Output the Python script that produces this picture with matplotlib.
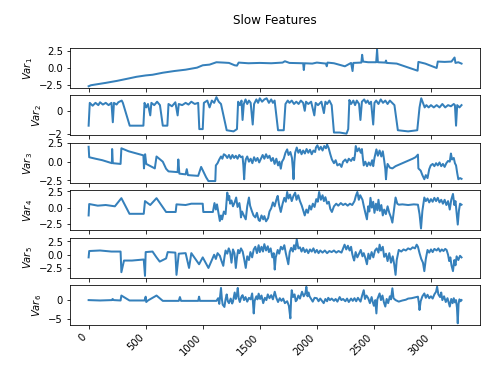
import numpy as np
import matplotlib.pyplot as plt

# (sample index, value)
var1_pts = [(0, -2.75), (20, -2.6), (150, -2.25), (250, -1.95), (350, -1.6), (420, -1.35), (500, -1.15), (560, -1.05),
            (650, -0.75), (750, -0.5), (850, -0.3), (950, 0.0), (1000, 0.35), (1060, 0.45), (1120, 0.8), (1180, 0.75),
            (1230, 0.7), (1280, 0.35), (1300, 0.3), (1315, 0.75), (1400, 0.65), (1500, 0.7), (1600, 0.65), (1700, 0.75),
            (1720, 0.95), (1760, 0.7), (1880, 0.65), (1886, -0.35), (1892, 0.65), (1960, 0.6), (2000, 0.75), (2080, 0.6),
            (2087, 0.2), (2094, 0.75), (2150, 0.65), (2246, 0.2), (2300, 0.7), (2313, -0.5), (2320, 0.7), (2390, 0.75),
            (2397, 1.9), (2405, 0.9), (2450, 0.8), (2520, 0.8), (2528, 2.65), (2535, 0.8), (2600, 0.75), (2606, 1.05),
            (2612, 0.7), (2700, 0.6), (2883, -0.45), (2890, 0.85), (2950, 0.6), (3050, -0.05), (3060, 0.9), (3120, 0.85),
            (3180, 0.9), (3207, 1.5), (3215, 0.7), (3240, 0.8), (3268, 0.6)]

var2_pts = [(0, -1.3), (10, 0.7), (35, 0.45), (60, 0.7), (85, 0.5), (100, 0.75), (125, 0.55), (150, 0.7), (175, 0.5),
            (200, 0.7), (212, -1.0), (222, 0.7), (245, 0.55), (260, 0.75), (290, 0.9), (300, 0.7), (360, -1.3),
            (480, -1.3), (490, 0.7), (505, 0.3), (520, 0.6), (540, -0.4), (550, 0.7), (575, 0.5), (600, 0.8), (625, 0.5),
            (650, -1.3), (690, -1.3), (700, 0.6), (730, 0.4), (760, 0.75), (780, -0.4), (790, 0.6), (820, 0.5),
            (850, 0.7), (875, 0.55), (900, 0.8), (930, 0.6), (960, 0.7), (970, -1.6), (1000, -1.6), (1010, 0.7),
            (1040, 0.9), (1060, 0.3), (1080, 0.9), (1100, 0.7), (1120, 1.2), (1140, 0.8), (1160, 0.6), (1210, -1.7),
            (1270, -1.8), (1300, -1.6), (1310, 0.8), (1325, 0.5), (1340, 0.9), (1349, -0.8), (1360, 0.6), (1375, 1.0),
            (1390, 0.6), (1405, 0.9), (1420, 0.7), (1438, -1.2), (1450, 0.6), (1470, 1.0), (1485, 0.7), (1500, 1.1),
            (1520, 0.8), (1540, 1.0), (1560, 1.1), (1580, 0.7), (1600, 1.0), (1615, 0.7), (1630, 0.9), (1660, -1.7),
            (1710, -1.7), (1725, 0.6), (1745, 0.9), (1760, 0.7), (1780, 0.9), (1800, 0.6), (1820, 0.8), (1840, 0.6),
            (1860, 0.9), (1880, 0.7), (1894, 0.0), (1905, 0.8), (1925, 0.6), (1950, 0.8), (1978, -0.4), (1990, 0.7),
            (2010, 0.5), (2040, 0.8), (2062, -0.2), (2075, 0.8), (2090, 0.6), (2110, 0.9), (2130, 0.5), (2150, -1.9),
            (2200, -1.9), (2260, -2.0), (2275, -1.6), (2285, 0.95), (2300, 0.6), (2320, 0.9), (2335, 0.5), (2350, 0.9),
            (2370, 0.6), (2382, -0.8), (2395, 0.8), (2415, 1.0), (2430, 0.7), (2445, 0.9), (2460, 0.6), (2475, 0.8),
            (2494, -1.2), (2505, 0.7), (2520, 0.9), (2540, 0.6), (2560, 1.0), (2580, 0.7), (2600, 0.9), (2620, 0.6),
            (2640, 0.9), (2660, 0.7), (2680, 0.5), (2710, -1.7), (2800, -1.8), (2880, -1.7), (2900, 0.3), (2915, 1.1),
            (2930, 0.7), (2945, 0.3), (2960, 0.5), (2980, 0.3), (3000, 0.5), (3025, 0.3), (3050, 0.5), (3075, 0.3),
            (3100, 0.6), (3125, 0.3), (3150, 0.5), (3175, 0.4), (3200, 0.6), (3210, 0.5), (3220, -1.3), (3230, 0.5),
            (3250, 0.3), (3268, 0.5)]

var3_pts = [(0, 2.0), (5, 0.6), (60, 0.4), (120, 0.2), (204, -0.2), (206, 1.7), (212, -0.2), (280, -0.3), (287, 1.8),
            (350, 1.4), (420, 1.1), (480, 0.85), (485, -0.9), (495, 1.0), (505, -0.3), (580, -0.9), (595, 0.7),
            (650, 0.0), (679, -0.95), (700, -1.3), (780, -1.4), (786, 0.3), (795, -1.6), (850, -1.7), (860, -1.0),
            (870, -1.8), (960, -1.9), (986, -0.7), (1030, -2.1), (1050, -2.6), (1110, -2.6), (1115, -0.5), (1130, -0.2),
            (1145, 0.3), (1160, 0.7), (1172, 0.4), (1185, 1.0), (1200, 0.85), (1215, 0.5), (1230, 0.9), (1245, 0.4),
            (1260, 0.9), (1275, 0.5), (1290, 0.8), (1305, 0.4), (1320, 0.9), (1335, 0.6), (1349, 0.7), (1356, -0.5),
            (1363, -2.35), (1370, -0.5), (1377, 0.3), (1390, 0.7), (1405, 0.0), (1420, 0.4), (1435, -0.2), (1450, 0.6),
            (1465, 0.1), (1480, 0.5), (1495, -0.1), (1510, 0.4), (1525, 0.9), (1540, 0.4), (1555, 1.0), (1570, 0.5),
            (1585, 0.8), (1600, 0.1), (1615, 0.5), (1630, -0.3), (1645, 0.4), (1660, -0.5), (1672, 0.0), (1684, -0.94),
            (1695, 0.0), (1710, 0.4), (1725, 1.2), (1740, 1.65), (1752, 0.9), (1768, 1.3), (1782, 0.5), (1790, -1.0),
            (1796, -2.35), (1803, 0.0), (1810, 1.2), (1824, 1.9), (1838, 1.2), (1852, 1.6), (1866, 1.0), (1880, 1.5),
            (1895, 1.1), (1910, 1.7), (1925, 1.2), (1940, 1.6), (1955, 1.0), (1970, 1.5), (1985, 1.3), (1992, 1.9),
            (2005, 2.2), (2020, 1.6), (2035, 2.0), (2050, 1.5), (2065, 2.1), (2080, 1.8), (2090, 2.3), (2104, 1.8),
            (2118, 1.0), (2132, 0.3), (2150, -0.2), (2165, 0.2), (2180, -0.5), (2200, -0.3), (2216, -0.7), (2230, 0.0),
            (2250, 0.3), (2265, -0.1), (2280, 0.4), (2300, 0.1), (2315, 0.5), (2327, 0.2), (2335, 1.0), (2341, 2.1),
            (2355, 1.4), (2370, 1.8), (2385, 1.2), (2395, 1.7), (2403, 0.5), (2411, -0.5), (2425, 0.0), (2440, -0.6),
            (2455, -0.1), (2470, -0.5), (2485, 0.2), (2494, -0.6), (2505, 0.5), (2515, 1.2), (2522, 1.65), (2535, 0.8),
            (2550, 1.5), (2565, 0.7), (2578, 1.4), (2590, 0.2), (2600, -1.0), (2606, -2.35), (2613, -1.0), (2620, -0.3),
            (2640, -0.8), (2662, -0.9), (2690, -0.6), (2720, -0.4), (2750, -0.2), (2780, 0.0), (2810, 0.2), (2840, 0.4),
            (2865, 0.6), (2886, 0.95), (2890, -0.9), (2910, -1.2), (2925, -1.8), (2942, -2.35), (2955, -1.8),
            (2970, -2.2), (2985, -1.0), (2998, -0.5), (3015, -0.3), (3030, -0.6), (3045, -0.2), (3060, -0.5),
            (3075, -0.1), (3090, -0.6), (3105, -0.3), (3120, -0.7), (3135, -0.2), (3150, 0.1), (3165, 0.0), (3175, 1.1),
            (3185, 0.3), (3200, 0.5), (3210, -0.2), (3220, -0.5), (3230, -1.5), (3240, -2.35), (3255, -2.2),
            (3268, -2.3)]

var4_pts = [(0, -1.2), (5, 0.55), (80, 0.3), (150, 0.4), (230, 0.2), (287, 1.45), (358, -0.95), (483, -0.95), (494, 1.0),
            (540, 0.4), (595, 1.45), (679, -0.67), (763, -0.67), (770, 0.5), (850, 0.4), (900, 0.6), (1000, 0.6),
            (1005, -0.67), (1089, -0.67), (1103, 0.7), (1115, -0.3), (1125, 0.5), (1140, -1.0), (1150, -2.05),
            (1160, -1.2), (1170, -1.8), (1185, -0.6), (1200, -1.0), (1208, 0.8), (1215, 2.3), (1225, 1.2), (1232, 1.8),
            (1240, 0.6), (1252, 1.1), (1265, 0.2), (1280, 0.8), (1293, 1.55), (1305, 0.1), (1321, 0.7), (1330, -0.4),
            (1335, -1.5), (1345, -0.6), (1360, -1.2), (1377, -1.8), (1390, 0.2), (1405, 1.55), (1415, 0.3), (1430, -0.5),
            (1445, -1.2), (1461, -1.5), (1475, -0.8), (1490, -1.9), (1500, -2.05), (1515, -1.2), (1530, -1.8),
            (1540, -1.3), (1555, -2.1), (1573, -1.6), (1585, -0.6), (1600, -0.1), (1615, 0.8), (1630, 0.2), (1645, 1.2),
            (1657, 1.8), (1668, 0.5), (1684, -0.67), (1700, 0.6), (1715, 1.5), (1728, 0.9), (1740, 2.4), (1752, 1.4),
            (1765, 2.0), (1780, 1.0), (1795, 1.8), (1810, 2.3), (1822, 1.2), (1837, 1.9), (1852, 1.0), (1868, 0.3),
            (1880, -0.4), (1894, -1.2), (1908, -0.3), (1922, -0.8), (1936, 0.3), (1950, -0.3), (1965, 0.6), (1980, 0.1),
            (1995, 1.3), (2008, 0.9), (2020, 2.4), (2035, 1.2), (2050, 1.9), (2062, 1.0), (2075, 1.6), (2090, 0.6),
            (2105, 0.9), (2118, -0.2), (2132, -0.67), (2150, 0.2), (2170, 0.6), (2188, 0.3), (2210, 0.7), (2230, 0.4),
            (2250, 0.6), (2270, 0.3), (2290, 0.6), (2310, 0.4), (2330, 1.0), (2342, 1.8), (2355, 2.4), (2368, 1.2),
            (2380, 1.9), (2400, 1.2), (2412, 0.2), (2425, -0.8), (2439, -1.8), (2450, 0.2), (2460, -0.6), (2470, 1.5),
            (2482, 0.0), (2494, 0.9), (2505, -0.8), (2518, 0.6), (2530, -0.4), (2540, 1.2), (2552, -0.5), (2565, 0.4),
            (2578, -1.2), (2590, -0.3), (2605, -1.0), (2620, 0.2), (2635, -0.8), (2650, -1.5), (2662, -2.3),
            (2675, -0.5), (2690, 1.55), (2705, 0.6), (2718, 0.45), (2750, 0.5), (2800, 0.4), (2850, 0.5), (2886, 0.45),
            (2900, -1.0), (2913, -3.2), (2925, -0.5), (2942, 1.55), (2955, 1.0), (2970, 1.4), (2985, 0.8), (3000, 1.3),
            (3015, 0.9), (3030, 1.5), (3045, 1.0), (3060, 1.5), (3075, 0.8), (3090, 1.2), (3105, 0.6), (3120, 1.2),
            (3135, 0.4), (3150, 1.0), (3165, -0.3), (3178, 1.2), (3193, 2.1), (3205, 0.4), (3215, 1.0), (3225, -0.8),
            (3235, -2.6), (3245, -0.5), (3255, 0.6), (3268, 0.45)]

var5_pts = [(0, -0.5), (5, 0.7), (100, 0.8), (200, 0.6), (280, 0.6), (287, -3.3), (310, -1.1), (380, -1.1), (483, -0.9),
            (494, -4.0), (500, 0.5), (560, 0.6), (595, -0.5), (623, -1.3), (679, -0.7), (693, 0.5), (760, 0.4),
            (770, -3.8), (790, 0.2), (850, 0.3), (880, -2.5), (900, 0.3), (968, -1.8), (1000, -0.5), (1050, -2.5),
            (1100, 0.0), (1115, -0.8), (1130, 0.3), (1150, -0.2), (1165, -1.2), (1180, -2.1), (1190, -0.5), (1200, 0.8),
            (1215, 0.2), (1228, 1.2), (1240, 0.5), (1252, -1.5), (1265, 1.0), (1278, 0.3), (1290, -2.5), (1300, -0.5),
            (1310, 0.9), (1322, 0.3), (1335, 1.2), (1350, 0.6), (1363, -0.8), (1377, -2.5), (1390, -0.3), (1405, -1.0),
            (1418, 0.5), (1433, -0.5), (1447, 1.0), (1461, 1.5), (1475, 0.3), (1490, 1.8), (1500, 0.5), (1515, 1.5),
            (1528, 0.6), (1540, 2.0), (1555, 0.8), (1570, 1.6), (1580, 0.5), (1595, 1.2), (1610, -0.5), (1622, 0.3),
            (1631, -2.8), (1640, -0.5), (1657, 0.9), (1670, 0.2), (1685, 1.5), (1700, 1.0), (1715, 1.8), (1728, 0.3),
            (1740, -0.8), (1750, -1.8), (1762, 0.5), (1775, 1.3), (1790, 0.6), (1800, 1.8), (1812, 1.0), (1824, 2.9),
            (1838, 1.2), (1852, 1.4), (1866, 0.6), (1880, 1.3), (1895, 0.5), (1910, 1.0), (1925, 0.3), (1940, 1.0),
            (1955, 0.6), (1970, 1.2), (1985, 0.4), (2000, 0.9), (2015, 0.3), (2030, 0.8), (2050, 0.4), (2070, 0.8),
            (2090, 0.3), (2110, 0.7), (2130, 0.5), (2150, 0.8), (2170, 0.4), (2190, 0.7), (2216, 0.4), (2230, 1.2),
            (2243, 1.9), (2258, 1.0), (2272, 1.7), (2287, 0.8), (2300, 1.5), (2310, 0.2), (2318, -0.5), (2327, -1.1),
            (2340, 0.5), (2355, -0.5), (2370, 0.2), (2385, 0.9), (2400, -0.3), (2411, 0.3), (2425, -0.6), (2439, -1.8),
            (2452, 0.2), (2465, -0.8), (2480, 0.5), (2495, -0.5), (2510, 0.8), (2525, 1.2), (2540, 0.4), (2550, 1.9),
            (2562, 0.8), (2578, 1.5), (2590, -0.4), (2606, 0.2), (2620, -1.2), (2635, 0.3), (2650, -1.5), (2665, -0.3),
            (2678, -1.8), (2690, -3.8), (2700, -1.0), (2718, 0.9), (2740, 0.6), (2760, 1.0), (2780, 0.8), (2800, 1.2),
            (2820, 1.0), (2840, 1.4), (2860, 1.2), (2875, 1.9), (2886, 1.5), (2900, 0.3), (2915, -0.8), (2930, -1.5),
            (2942, -3.1), (2955, -0.8), (2970, 0.9), (2985, 0.4), (3000, 1.0), (3015, 0.5), (3030, 1.1), (3050, 0.8),
            (3065, 1.2), (3080, 0.6), (3095, 1.0), (3110, 0.7), (3125, 1.1), (3137, 0.9), (3150, 0.0), (3160, -1.2),
            (3170, -0.5), (3180, -2.0), (3193, -3.1), (3205, -1.0), (3215, -2.0), (3225, -0.3), (3240, -1.0),
            (3255, -0.2), (3268, -0.5)]

var6_pts = [(0, 0.0), (100, -0.1), (204, 0.0), (210, 0.3), (220, 0.0), (280, -0.1), (287, 1.2), (358, -0.1), (490, -0.1),
            (500, 0.9), (505, -0.5), (520, -0.1), (595, 1.2), (650, -0.2), (790, -0.2), (800, 0.8), (810, -0.2),
            (960, -0.2), (968, 0.9), (975, -0.2), (1120, -0.2), (1135, 0.5), (1145, -1.0), (1160, 3.2), (1168, 0.2),
            (1175, -1.2), (1190, -1.8), (1200, 0.2), (1210, 1.5), (1220, -0.3), (1230, -0.8), (1245, 0.4), (1258, -0.9),
            (1265, -0.4), (1280, 2.0), (1290, 0.3), (1300, 1.5), (1307, 3.2), (1315, 0.5), (1325, -0.5), (1338, 0.8),
            (1349, 1.3), (1362, 0.0), (1375, 0.8), (1390, -0.4), (1405, 0.6), (1420, 0.2), (1433, 1.75), (1440, -0.5),
            (1447, -3.5), (1455, -0.2), (1470, 1.0), (1480, 0.2), (1490, 1.7), (1503, 0.3), (1515, 1.2), (1530, -0.8),
            (1545, 0.6), (1558, 0.0), (1570, 1.5), (1585, 0.5), (1600, 1.3), (1615, 0.2), (1631, 2.2), (1645, 0.6),
            (1660, -0.5), (1675, 0.5), (1690, -0.2), (1705, 0.4), (1720, -0.8), (1740, -0.3), (1755, -1.5),
            (1768, -4.8), (1775, 0.5), (1780, 2.6), (1792, 0.8), (1805, 1.5), (1815, -0.3), (1824, 0.0), (1838, 1.2),
            (1852, 0.4), (1870, 2.2), (1885, 1.0), (1900, 1.8), (1908, 3.5), (1918, 1.0), (1928, 2.0), (1936, 1.0),
            (1950, 0.3), (1964, -0.4), (1980, 0.6), (2000, 0.5), (2015, -0.3), (2030, 0.4), (2045, -0.2), (2060, -0.8),
            (2075, 0.3), (2090, -0.3), (2100, 0.6), (2115, 0.0), (2130, 0.4), (2150, -0.2), (2165, 0.3), (2180, -0.4),
            (2200, 0.8), (2215, 0.0), (2230, 0.3), (2250, -0.3), (2265, 0.4), (2280, -0.5), (2300, 0.4), (2315, -0.2),
            (2330, 0.5), (2345, -0.3), (2360, 0.6), (2383, -0.4), (2395, 1.0), (2411, 2.6), (2422, 0.3), (2435, 1.2),
            (2450, 0.5), (2465, -0.8), (2480, 0.8), (2490, -0.5), (2500, -1.5), (2512, 0.0), (2522, -3.5), (2530, 0.2),
            (2540, 1.0), (2550, 1.75), (2562, 0.0), (2575, 1.2), (2588, -0.6), (2600, -1.7), (2612, 0.3), (2625, -0.8),
            (2640, 1.0), (2650, 0.2), (2662, 3.1), (2672, 0.5), (2690, 0.0), (2718, -0.4), (2750, -0.1), (2780, 0.1),
            (2800, 0.4), (2830, 0.5), (2860, 0.7), (2886, 0.9), (2893, -0.5), (2900, -2.6), (2910, -0.3), (2925, 1.0),
            (2942, 1.75), (2955, 0.6), (2970, 1.4), (2985, 0.5), (3000, 1.0), (3015, 0.4), (3030, 1.5), (3045, 2.2),
            (3054, 3.5), (3065, 1.5), (3080, 0.8), (3090, 2.0), (3100, 0.0), (3115, 1.0), (3130, -0.5), (3145, 0.5),
            (3165, -1.7), (3178, 0.3), (3190, -0.8), (3200, 0.5), (3210, -0.6), (3220, 0.0), (3228, -2.0), (3235, -6.1),
            (3242, -1.0), (3250, 0.2), (3260, -0.3), (3268, 0.0)]

series = [var1_pts, var2_pts, var3_pts, var4_pts, var5_pts, var6_pts]
yticks = [[-2.5, 0, 2.5], [-2, 0], [-2.5, 0, 2.5], [-2.5, 0, 2.5], [-2.5, 0, 2.5], [-5, 0]]

fig, axes = plt.subplots(6, 1, sharex=True, figsize=(6.75, 5.1), dpi=72)
fig.subplots_adjust(left=0.144, right=0.988, top=0.869, bottom=0.114, hspace=0.18)

for i, ax in enumerate(axes):
    t, v = zip(*series[i])
    ax.plot(t, v, color='#3580bb', lw=2)
    ax.set_yticks(yticks[i])
    ax.set_ylabel('$Var_{%d}$' % (i + 1))

axes[0].set_title('Slow Features', pad=24)
axes[-1].set_xticks(np.arange(0, 3001, 500))
plt.setp(axes[-1].get_xticklabels(), rotation=45, ha='right')

fig.savefig('out.png', dpi=72)
